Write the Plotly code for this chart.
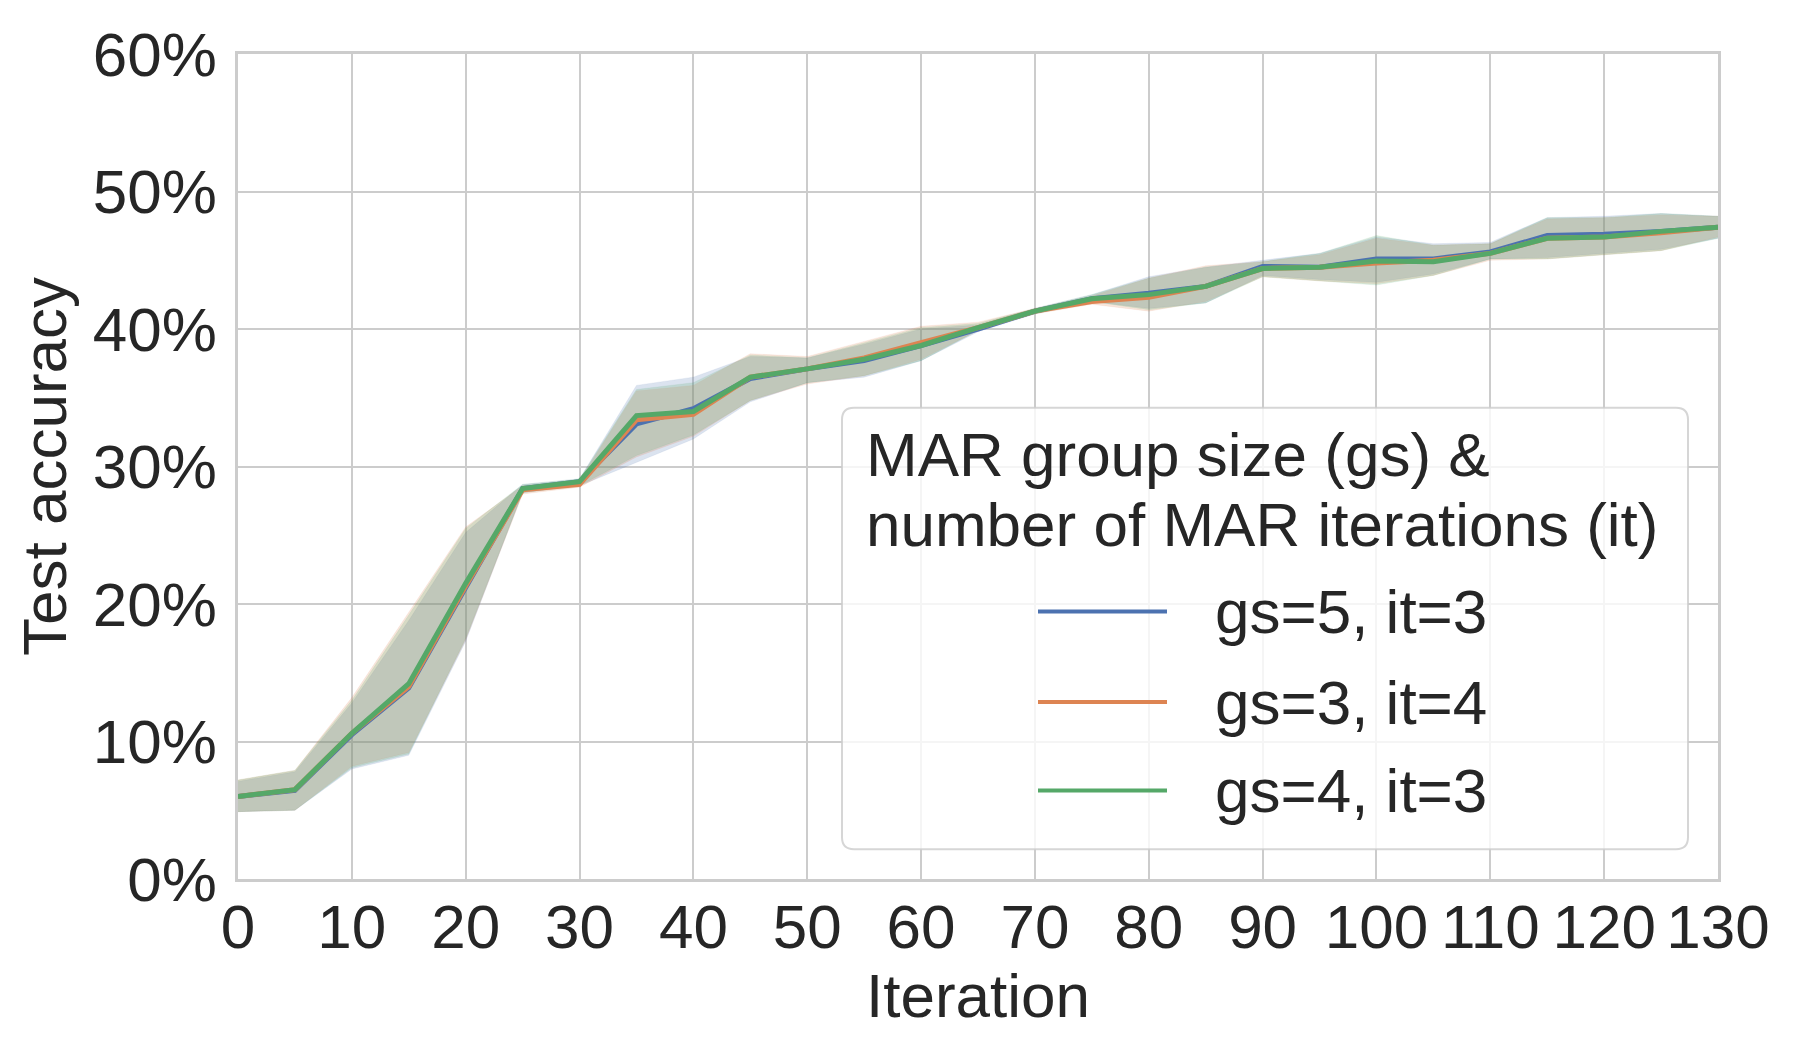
import plotly.graph_objects as go

# ---------------- data ----------------
iterations = [0, 5, 10, 15, 20, 25, 30, 35, 40, 45, 50, 55, 60, 65, 70,
              75, 80, 85, 90, 95, 100, 105, 110, 115, 120, 125, 130]

series_names = ["gs=5, it=3", "gs=3, it=4", "gs=4, it=3"]

blue_mean = [6.0, 6.45, 10.5, 13.9, 21.2, 28.4, 28.9, 33.1, 34.2, 36.4, 37.1, 37.7, 38.8, 40.0,
             41.3, 42.2, 42.6, 43.1, 44.55, 44.5, 45.1, 45.1, 45.6, 46.8, 46.9, 47.1, 47.4]
blue_lo = [4.9, 5.0, 8.0, 9.0, 17.3, 28.1, 28.6, 30.3, 32.0, 34.7, 36.1, 36.5, 37.7, 39.8,
           41.1, 42.0, 41.5, 41.9, 43.9, 43.6, 43.4, 44.0, 45.1, 45.2, 45.5, 45.8, 46.6]
blue_hi = [7.1, 7.8, 12.8, 18.8, 25.2, 28.7, 29.1, 35.9, 36.5, 38.0, 37.9, 38.9, 40.0, 40.3,
           41.5, 42.5, 43.8, 44.5, 45.0, 45.5, 46.7, 46.2, 46.3, 48.1, 48.2, 48.4, 48.2]

orange_mean = [6.0, 6.5, 10.6, 14.0, 21.3, 28.3, 28.7, 33.4, 33.8, 36.5, 37.1, 37.9, 39.0, 40.1,
               41.3, 42.0, 42.3, 43.1, 44.4, 44.5, 44.8, 45.0, 45.5, 46.6, 46.7, 47.0, 47.4]
orange_lo = [4.9, 5.0, 8.2, 9.2, 17.4, 28.0, 28.5, 30.7, 32.2, 34.8, 36.0, 36.6, 37.8, 39.9,
             41.1, 41.8, 41.3, 42.0, 43.8, 43.5, 43.3, 43.9, 45.0, 45.1, 45.4, 45.7, 46.7]
orange_hi = [7.2, 7.9, 13.2, 19.4, 25.6, 28.6, 29.0, 35.5, 35.9, 38.2, 38.0, 39.1, 40.2, 40.5,
             41.5, 42.4, 43.7, 44.6, 44.9, 45.4, 46.6, 46.1, 46.2, 48.0, 48.1, 48.3, 48.2]

green_mean = [6.0, 6.5, 10.6, 14.2, 21.5, 28.4, 28.9, 33.7, 34.0, 36.5, 37.1, 37.8, 38.8, 40.1,
              41.3, 42.2, 42.5, 43.1, 44.4, 44.5, 44.95, 44.9, 45.5, 46.6, 46.7, 47.1, 47.4]
green_lo = [4.9, 5.0, 8.1, 9.1, 17.5, 28.1, 28.6, 30.8, 32.3, 34.8, 36.1, 36.6, 37.7, 39.9,
            41.1, 42.0, 41.4, 41.9, 43.8, 43.5, 43.2, 43.9, 45.1, 45.1, 45.4, 45.7, 46.6]
green_hi = [7.2, 7.9, 13.0, 19.2, 25.5, 28.7, 29.1, 35.6, 36.1, 38.1, 37.9, 39.0, 40.1, 40.4,
            41.5, 42.5, 43.7, 44.5, 44.9, 45.5, 46.8, 46.1, 46.2, 48.1, 48.1, 48.4, 48.2]

legend_title_lines = ["MAR group size (gs) &", "number of MAR iterations (it)"]
x_title = "Iteration"
y_title = "Test accuracy"

# ---------------- styling ----------------
colors_rgb = [(76, 114, 176), (221, 132, 82), (85, 168, 104)]
FONT = "Arial, 'Liberation Sans', Helvetica, sans-serif"
TEXT = "#262626"
GRID = "#cccccc"
FS = 62

BODY = 8                    # default page margin of the html body
W, H = 1800 - 2 * BODY, 1050 - 2 * BODY
PL, PR, PT, PB = 238, 1718, 49, 879   # plot area in page pixels


def px(x):
    return (x - PL) / (PR - PL)


def py(y):
    return (PB - y) / (PB - PT)


means = [blue_mean, orange_mean, green_mean]
los = [blue_lo, orange_lo, green_lo]
his = [blue_hi, orange_hi, green_hi]

fig = go.Figure()

# confidence bands
for name, lo, hi, (r, g, b) in zip(series_names, los, his, colors_rgb):
    fig.add_trace(go.Scatter(x=iterations, y=lo, mode="lines",
                             line=dict(width=0.6, color=f"rgba({r},{g},{b},0.15)"),
                             showlegend=False, hoverinfo="skip"))
    fig.add_trace(go.Scatter(x=iterations, y=hi, mode="lines", fill="tonexty",
                             fillcolor=f"rgba({r},{g},{b},0.2)",
                             line=dict(width=0.6, color=f"rgba({r},{g},{b},0.15)"),
                             showlegend=False, hoverinfo="skip"))

# mean lines
for name, m, (r, g, b) in zip(series_names, means, colors_rgb):
    fig.add_trace(go.Scatter(x=iterations, y=m, mode="lines", name=name,
                             line=dict(width=5, color=f"rgb({r},{g},{b})"),
                             showlegend=False))

# ---------------- custom legend (box, samples, texts) ----------------
shapes = []
annotations = []


def rounded_rect(x0, y0, x1, y1, rad):
    pts = [("M", [(x0 + rad, y0)]), ("L", [(x1 - rad, y0)]), ("Q", [(x1, y0), (x1, y0 + rad)]),
           ("L", [(x1, y1 - rad)]), ("Q", [(x1, y1), (x1 - rad, y1)]), ("L", [(x0 + rad, y1)]),
           ("Q", [(x0, y1), (x0, y1 - rad)]), ("L", [(x0, y0 + rad)]), ("Q", [(x0, y0), (x0 + rad, y0)])]
    s = ""
    for cmd, ps in pts:
        s += cmd + " " + " ".join(f"{px(a):.5f},{py(b):.5f}" for a, b in ps) + " "
    return s + "Z"


shapes.append(dict(type="path", xref="paper", yref="paper",
                   path=rounded_rect(842, 405, 1688, 849, 12),
                   fillcolor="rgba(255,255,255,0.8)",
                   line=dict(color="rgba(204,204,204,0.8)", width=2), layer="above"))

title_y = [452, 522]
for t, yy in zip(legend_title_lines, title_y):
    annotations.append(dict(text=t, xref="paper", yref="paper", x=px(864), y=py(yy),
                            xanchor="left", yanchor="middle", showarrow=False,
                            font=dict(family=FONT, size=FS, color=TEXT)))

entry_y = [610, 701, 790]
for name, (r, g, b), yy in zip(series_names, colors_rgb, entry_y):
    shapes.append(dict(type="line", xref="paper", yref="paper",
                       x0=px(1038), x1=px(1167), y0=py(yy), y1=py(yy),
                       line=dict(color=f"rgb({r},{g},{b})", width=4), layer="above"))
    annotations.append(dict(text=name, xref="paper", yref="paper", x=px(1213), y=py(yy),
                            xanchor="left", yanchor="middle", showarrow=False,
                            font=dict(family=FONT, size=FS, color=TEXT)))

fig.update_layout(
    width=W, height=H,
    margin=dict(l=PL - BODY, r=W - (PR - BODY), t=PT - BODY, b=H - (PB - BODY), pad=0),
    paper_bgcolor="white", plot_bgcolor="white",
    font=dict(family=FONT, size=FS, color=TEXT),
    showlegend=False,
    shapes=shapes, annotations=annotations,
)

fig.update_xaxes(range=[0, 130], dtick=10, tick0=0,
                 showgrid=True, gridcolor=GRID, gridwidth=2,
                 showline=True, linecolor=GRID, linewidth=2.5, mirror=True,
                 zeroline=False, ticks="", ticklabelstandoff=-8,
                 tickfont=dict(family=FONT, size=FS, color=TEXT),
                 title=dict(text=x_title, font=dict(family=FONT, size=FS, color=TEXT), standoff=0))
fig.update_yaxes(range=[0, 60], dtick=10, tick0=0, ticksuffix="%",
                 showgrid=True, gridcolor=GRID, gridwidth=2,
                 showline=True, linecolor=GRID, linewidth=2.5, mirror=True,
                 zeroline=False, ticks="", ticklabelstandoff=6,
                 tickfont=dict(family=FONT, size=FS, color=TEXT),
                 title=dict(text=y_title, font=dict(family=FONT, size=FS, color=TEXT), standoff=7))

fig.write_html("out.html")
